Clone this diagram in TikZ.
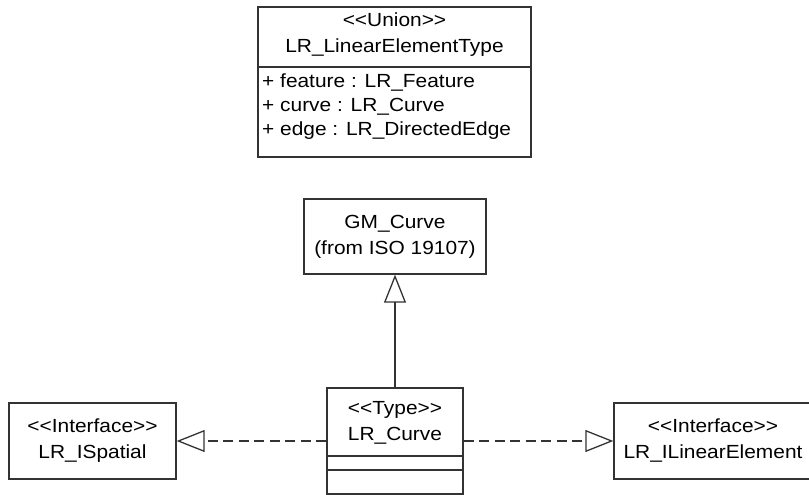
\documentclass[tikz,border=0pt]{standalone}
\usepackage{fontspec}
\setmainfont[FakeStretch=1.1]{Liberation Sans}
\usetikzlibrary{arrows.meta, positioning}

\newcommand{\stereo}[1]{<\kern0pt<#1>\kern0pt>}

\tikzset{
  umlbox/.style={draw=black!80, line width=1.4pt, fill=white, inner sep=0pt},
  umltext/.style={font=\fontsize{19}{26}\selectfont, inner sep=0pt, align=center},
  umlline/.style={draw=black!80, line width=1.4pt},
  inherit/.style={draw=black!80, line width=1.3pt, -{Triangle[open, length=28pt, width=22pt]}},
  realize/.style={inherit, dash pattern=on 10pt off 5.5pt},
}

\begin{document}
\begin{tikzpicture}[x=1pt, y=-1pt]
            \useasboundingbox (0,0) rectangle (809,495);
            \coordinate (U) at (394.5,82);
            \coordinate (G) at (395,236.5);
            \coordinate (C) at (395,441);
            \coordinate (S) at (92.5,441);
            \coordinate (L) at (713,441);
            % union type with its attributes
            \node[umlbox, minimum width=273pt, minimum height=150pt] (union) at (U) {};
            \node[umltext] (unionname) at (394.5,35) {\stereo{Union}\\LR\_LinearElementType};
            \draw[umlline] (union.west |- 0,67) -- (union.east |- 0,67);
            \node[umltext, align=left, anchor=west, font=\fontsize{19}{24}\selectfont] (unionattrs) at (262,107)
              {+ feature : LR\_Feature\\+ curve : LR\_Curve\\+ edge : LR\_DirectedEdge};
            % classes
            \node[umlbox, umltext, minimum width=182pt, minimum height=75pt] (gmcurve) at (G) {GM\_Curve\\(from ISO 19107)};
            \node[umlbox, minimum width=136pt, minimum height=106pt] (lrcurve) at (C) {};
            \node[umltext] (lrcurvename) at (395,423) {\stereo{Type}\\LR\_Curve};
            \draw[umlline] (lrcurve.west |- 0,456) -- (lrcurve.east |- 0,456);
            \draw[umlline] (lrcurve.west |- 0,470) -- (lrcurve.east |- 0,470);
            \node[umlbox, umltext, minimum width=167pt, minimum height=76pt] (ispatial) at (S) {\stereo{Interface}\\LR\_ISpatial};
            \node[umlbox, umltext, minimum width=198pt, minimum height=76pt] (ilinear) at (L) {\stereo{Interface}\\LR\_ILinearElement};
            % relations
            \draw[inherit] (lrcurve) -- (gmcurve);
            \draw[realize] (lrcurve) -- (ispatial);
            \draw[realize] (lrcurve) -- (ilinear);
        \end{tikzpicture}
\end{document}
